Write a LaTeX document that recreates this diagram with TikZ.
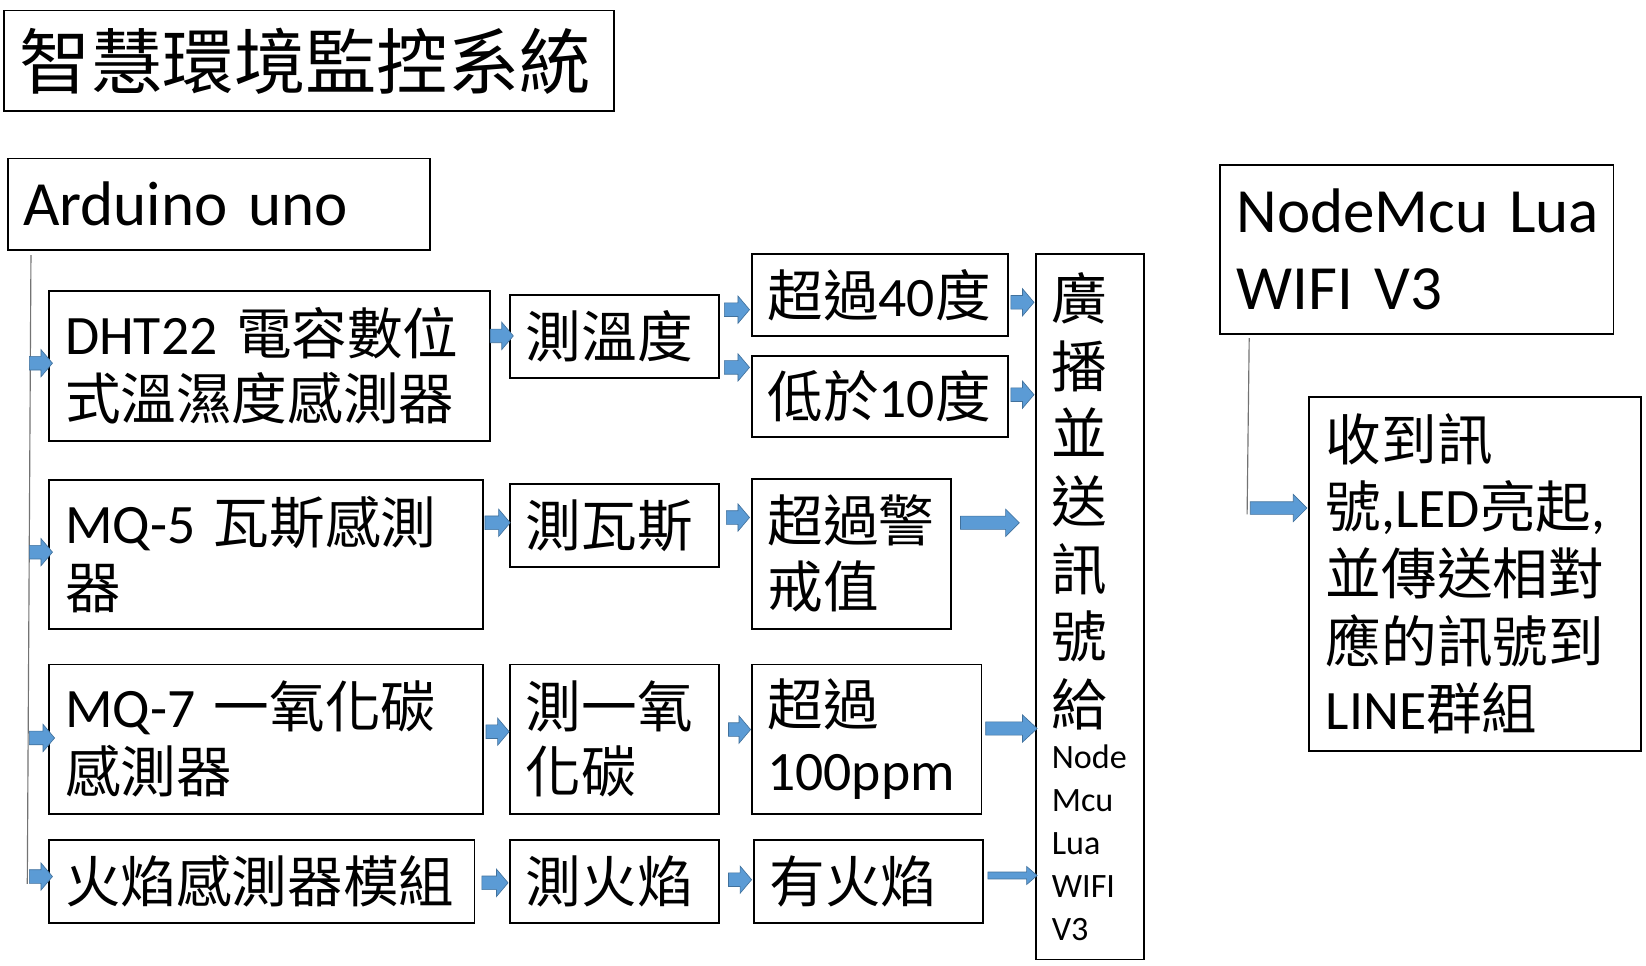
\documentclass[tikz,border=0pt]{standalone}
\usepackage{fontspec}
\setmainfont{Carlito}
\newfontfamily\cjk{Noto Sans CJK TC}
\newcommand\zh[1]{{\cjk #1}}
\usetikzlibrary{calc}
\definecolor{ablue}{HTML}{5B9BD5}
\definecolor{aedge}{HTML}{41719C}
\tikzset{
 box/.style={draw, line width=1.8pt, inner ysep=0pt, inner xsep=15pt, outer sep=0pt, anchor=north west, align=left},
 barrow/.style={fill=ablue, draw=aedge, line width=0.6pt, line join=miter},
 trunk/.style={draw=black!55, line width=1.1pt},
 fA/.style={font=\fontsize{53}{62}\selectfont},
}
% #1 from anchor, #2 dx, #3 to anchor, #4 dx, #5 y, #6 shaft half, #7 head half, #8 head length
\newcommand\barr[8]{%
 \filldraw[barrow] let \p1=(#1), \p2=(#3) in
 (\x1#2pt,-#5pt+#6pt) -- (\x2#4pt-#8pt,-#5pt+#6pt) -- (\x2#4pt-#8pt,-#5pt+#7pt) -- (\x2#4pt,-#5pt)
 -- (\x2#4pt-#8pt,-#5pt-#7pt) -- (\x2#4pt-#8pt,-#5pt-#6pt) -- (\x1#2pt,-#5pt-#6pt) -- cycle;}
\begin{document}
\begin{tikzpicture}[x=1pt,y=-1pt]
\fill[white] (0,0) rectangle (1568,920);
\useasboundingbox (0,0) rectangle (1568,920);
% title and controllers
\node[box, minimum width=581, text width=551, minimum height=96, font=\fontsize{68}{80}\selectfont] (title) at (4,10) {\zh{智慧環境監控系統}};
\node[box, inner xsep=14pt, minimum width=402, text width=374, minimum height=87, font=\fontsize{60}{70}\selectfont] (ard) at (8,151) {Arduino uno};
\node[box, inner xsep=16pt, minimum width=375, text width=343, minimum height=161, font=\fontsize{60}{73}\selectfont] (nm) at (1162,157) {\mbox{NodeMcu Lua}\\WIFI V3};
% sensors
\node[box, fA, minimum width=420, text width=390, minimum height=143] (dht) at (47,277) {DHT22 \zh{電容數位}\\\zh{式溫濕度感測器}};
\node[box, fA, minimum width=413, text width=383, minimum height=142] (mq5) at (47,457) {MQ-5 \zh{瓦斯感測}\\\zh{器}};
\node[box, fA, minimum width=413, text width=383, minimum height=142] (mq7) at (47,633) {MQ-7 \zh{一氧化碳}\\\zh{感測器}};
\node[box, fA, minimum width=405, text width=375, minimum height=79] (fire) at (47,800) {\zh{火焰感測器模組}};
% measure
\node[box, fA, minimum width=199, text width=169, minimum height=79] (tw) at (486,281) {\zh{測溫度}};
\node[box, fA, minimum width=199, text width=169, minimum height=79] (tg) at (486,461) {\zh{測瓦斯}};
\node[box, fA, minimum width=199, text width=169, minimum height=142] (tc) at (486,633) {\zh{測一氧}\\\zh{化碳}};
\node[box, fA, minimum width=199, text width=169, minimum height=79] (tf) at (486,800) {\zh{測火焰}};
% conditions
\node[box, fA, minimum width=243, text width=214, minimum height=78] (o40) at (716,242) {\zh{超過}40\zh{度}};
\node[box, fA, minimum width=243, text width=214, minimum height=77] (l10) at (716,339) {\zh{低於}10\zh{度}};
\node[box, fA, font=\fontsize{53}{63}\selectfont, minimum width=190, text width=160, minimum height=143] (ow) at (716,456) {\zh{超過警}\\\zh{戒值}};
\node[box, fA, minimum width=219, text width=189, minimum height=142] (o100) at (716,633) {\zh{超過}\\100ppm};
\node[box, fA, minimum width=218, text width=188, minimum height=79] (hf) at (718,800) {\zh{有火焰}};
% broadcast box
\node[box, minimum width=103, text width=73, minimum height=672] (big) at (987,242)
 {{\fontsize{53}{64.5}\selectfont \zh{廣}\par\zh{播}\par\zh{並}\par\zh{送}\par\zh{訊}\par\zh{號}\par\zh{給}\par}%
  {\fontsize{32.5}{41}\selectfont Node\par Mcu\par Lua\par WIFI\par V3\par}};
% receiver box
\node[box, inner xsep=16pt, font=\fontsize{53}{64}\selectfont, minimum width=316, text width=284, minimum height=337] (rx) at (1247,378)
 {\zh{收到訊}\\\zh{號},LED\zh{亮起},\\\zh{並傳送相對}\\\zh{應的訊號到}\\LINE\zh{群組}};
% trunk lines
\coordinate (trunkend) at (26,842);
\draw[trunk] ($(ard.south west)+(21.5,5)$) -- (trunkend);
\coordinate (nmend) at (1188,490);
\draw[trunk] ($(nm.south west)+(28,4)$) -- (nmend);
% arrows
\barr{dht.west}{-19}{dht.west}{+3}{346}{6.5}{13}{11}
\barr{mq5.west}{-19}{mq5.west}{+3}{526}{6.5}{13}{11}
\barr{mq7.west}{-19}{mq7.west}{+5}{703}{6.5}{13}{11}
\barr{fire.west}{-19}{fire.west}{+3}{835}{6.5}{13}{11}
\barr{dht.east}{+0}{tw.west}{+3}{320}{6.5}{13}{11}
\barr{mq5.east}{+2}{tg.west}{+0}{498}{6.5}{13}{11}
\barr{mq7.east}{+3}{tc.west}{-1}{697}{6.5}{13}{11}
\barr{fire.east}{+7}{tf.west}{-2}{841}{6.5}{13}{11}
\barr{tw.east}{+5}{o40.west}{-2}{295}{6.5}{13}{11}
\barr{tw.east}{+5}{l10.west}{-2}{350}{6.5}{13}{11}
\barr{tg.east}{+7}{ow.west}{-2}{493}{6.5}{13}{11}
\barr{tc.east}{+9}{o100.west}{-1}{695}{6.5}{13}{11}
\barr{tf.east}{+9}{hf.west}{-2}{838}{6.5}{13}{11}
\barr{o40.east}{+3}{big.west}{-2}{288}{6.5}{13}{11}
\barr{l10.east}{+3}{big.west}{-2}{376}{6.5}{13}{11}
\barr{ow.east}{+9}{big.west}{-16}{498}{6.3}{13}{13}
\barr{o100.east}{+4}{big.west}{+1}{694}{6.3}{13}{14}
\barr{hf.east}{+5}{big.west}{+1}{834}{3.3}{8.6}{10}
\barr{rx.west}{-56}{rx.west}{-2}{484}{6}{13}{13}
\end{tikzpicture}
\end{document}
